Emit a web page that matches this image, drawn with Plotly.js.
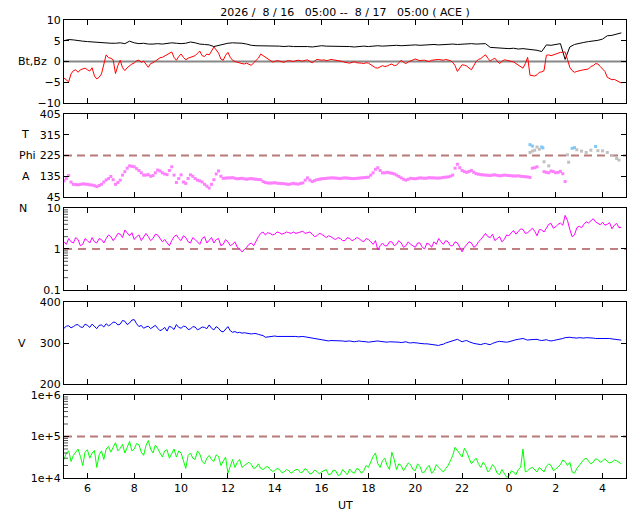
<!DOCTYPE html>
<html>
<head>
<meta charset="utf-8">
<script src="https://cdn.plot.ly/plotly-3.0.1.min.js"></script>
<style>
  body { margin: 0; background: #fff; }
  #chart { width: 640px; height: 512px; }
</style>
</head>
<body>
<div id="chart"></div>
<script>
// UT hours since 2026-08-16 00:00, one sample every 12 minutes
const hours = [
  5, 5.2, 5.4, 5.6, 5.8, 6, 6.2, 6.4, 6.6, 6.8,
  7, 7.2, 7.4, 7.6, 7.8, 8, 8.2, 8.4, 8.6, 8.8,
  9, 9.2, 9.4, 9.6, 9.8, 10, 10.2, 10.4, 10.6, 10.8,
  11, 11.2, 11.4, 11.6, 11.8, 12, 12.2, 12.4, 12.6, 12.8,
  13, 13.2, 13.4, 13.6, 13.8, 14, 14.2, 14.4, 14.6, 14.8,
  15, 15.2, 15.4, 15.6, 15.8, 16, 16.2, 16.4, 16.6, 16.8,
  17, 17.2, 17.4, 17.6, 17.8, 18, 18.2, 18.4, 18.6, 18.8,
  19, 19.2, 19.4, 19.6, 19.8, 20, 20.2, 20.4, 20.6, 20.8,
  21, 21.2, 21.4, 21.6, 21.8, 22, 22.2, 22.4, 22.6, 22.8,
  23, 23.2, 23.4, 23.6, 23.8, 24, 24.2, 24.4, 24.6, 24.8,
  25, 25.2, 25.4, 25.6, 25.8, 26, 26.2, 26.4, 26.6, 26.8,
  27, 27.2, 27.4, 27.6, 27.8, 28, 28.2, 28.4, 28.6, 28.8
];
// the *_mid arrays hold the samples taken 6 minutes after each entry of hours
const half_step = 0.1;

// Bt (nT)
const bt = [
  5.0, 5.3, 5.2, 5.0, 4.9, 4.8, 4.7, 4.6, 4.6, 4.5,
  4.4, 4.4, 4.5, 4.3, 4.9, 4.5, 4.3, 4.4, 4.2, 4.2,
  4.3, 4.2, 4.4, 4.5, 4.4, 4.3, 4.4, 4.7, 4.5, 4.2,
  4.1, 4.0, 3.6, 3.9, 4.2, 4.4, 4.5, 4.5, 4.4, 4.2,
  3.9, 3.8, 3.8, 3.7, 3.8, 3.7, 3.7, 3.6, 3.7, 3.6,
  3.6, 3.7, 3.6, 3.5, 3.6, 3.8, 3.7, 3.7, 3.6, 3.7,
  3.6, 3.6, 3.5, 3.6, 3.7, 3.6, 3.7, 3.8, 3.7, 3.8,
  3.8, 3.9, 3.8, 3.9, 3.9, 4.0, 3.9, 4.0, 4.0, 4.1,
  4.0, 4.1, 4.1, 4.2, 4.1, 4.2, 4.2, 4.3, 4.2, 4.3,
  4.3, 3.4, 3.3, 3.3, 3.2, 3.1, 3.2, 3.0, 3.1, 3.0,
  2.8, 2.7, 2.4, 4.0, 3.9, 4.1, 4.3, 0.5, 3.5, 4.1,
  4.4, 4.6, 4.8, 4.9, 5.1, 5.4, 6.2, 6.3, 6.6, 6.9
];

// Bz (nT)
const bz = [
  -4.0, -4.9, -2.2, -2.6, -1.8, -2.0, -1.5, -4.2, -3.0, 1.6,
  0.8, -2.9, 0.3, -2.2, -1.0, -0.4, 0.3, 0.1, -1.4, -0.3,
  0.6, 1.0, 1.5, 2.3, 0.3, 1.8, 0.4, 1.0, 1.4, 2.5,
  1.2, 1.6, 3.5, 2.0, 0.3, 2.2, 0.3, -0.2, -0.5, -0.4,
  -0.9, 0.2, 1.8, 1.0, 0.2, 0.0, 0.1, -0.2, 0.2, 0.0,
  0.3, 0.1, 0.4, -0.3, 0.5, 0.3, 0.2, 0.5, 0.3, 0.2,
  -0.2, -0.4, -0.1, -0.3, -0.5, -0.4, -1.2, -1.6, -1.0, -1.1,
  -0.6, -0.9, 0.3, -0.5, 0.1, 0.6, 0.2, 0.3, 0.0, 0.4,
  0.5, 0.3, 0.4, -0.2, -2.4, -0.8, -1.1, -2.0, 0.0, 0.7,
  1.6, 0.1, 0.8, -0.5, 0.4, 0.2, -0.1, -0.8, -1.6, 1.0,
  -3.4, -3.2, -2.5, 1.5, 1.4, 1.8, 2.2, 2.3, -1.4, -2.6,
  -2.2, -2.0, -1.8, -1.0, -0.6, -1.8, -3.8, -4.4, -4.6, -5.2
];
const bz_mid = [
  -4.5, -3.0, -2.0, -2.0, -1.6, -2.3, -3.5, -3.8, -1.0, 0.9,
  0.4, -1.0, -1.5, -1.5, -0.6, 0.2, -0.2, -0.8, -0.5, 0.1,
  0.9, 1.3, 2.0, 1.0, 1.2, 1.0, 0.8, 1.3, 2.0, 1.4,
  1.8, 2.5, 2.8, 0.6, 1.5, 1.0, 0.0, -0.4, -0.6, -0.7,
  -0.3, 0.8, 1.4, 0.5, -0.1, 0.2, -0.1, 0.1, 0.1, 0.2,
  0.2, 0.3, 0.0, 0.1, 0.4, 0.4, 0.3, 0.4, 0.2, 0.0,
  -0.3, -0.2, -0.3, -0.4, -0.3, -0.8, -1.5, -1.3, -1.2, -0.8,
  -1.0, -0.3, -0.2, -0.1, 0.4, 0.4, 0.3, 0.1, 0.3, 0.5,
  0.4, 0.5, 0.2, -1.0, -1.5, -0.9, -1.6, -1.0, 0.5, 1.2,
  0.8, 0.5, 0.1, 0.0, 0.3, 0.1, -0.5, -1.2, -0.5, -3.3,
  -3.5, -2.6, -2.2, 1.6, 1.6, 2.0, 2.2, 0.5, -2.2, -2.4,
  -2.1, -1.9, -1.2, -0.5, -1.2, -2.4, -4.2, -4.3, -4.9, null
];

// Phi angle (deg), toward sector samples
const phi_toward = [
  115, 138, 100, 98, 102, 100, 97, 90, 100, 119,
  134, 100, 118, 155, 180, 176, 160, 140, 142, 138,
  162, 150, 142, 176, 108, 141, 104, 141, 125, 115,
  100, 84, 120, 158, 126, 128, 129, 124, 126, 122,
  125, 122, 120, 108, 105, 107, 104, 103, 100, 104,
  101, 106, 128, 112, 120, 124, 126, 128, 127, 125,
  128, 126, 125, 127, 129, 131, 150, 172, 150, 152,
  148, 140, 128, 118, 126, 124, 128, 126, 129, 128,
  127, 130, 132, 140, 187, 160, 152, 160, 146, 142,
  140, 138, 141, 137, 140, 138, 136, 137, 134, 132,
  170, 176, null, 152, 158, 150, 156, 112, null, null,
  null, null, null, null, null, null, null, null, null, null
];
const phi_toward_mid = [
  125, 110, 99, 100, 101, 98, 94, 95, 110, 125,
  120, 108, 140, 170, 178, 168, 150, 140, 135, 150,
  158, 145, 160, 140, 125, 110, 125, 135, 118, 110,
  92, 100, 145, 135, 127, 128, 126, 125, 124, 124,
  123, 121, 112, 106, 106, 105, 103, 101, 102, 102,
  104, 118, 118, 116, 122, 125, 127, 128, 126, 127,
  127, 125, 126, 128, 130, 140, 165, 160, 150, 150,
  145, 134, 122, 122, 125, 126, 127, 127, 128, 127,
  128, 131, 135, 170, 172, 155, 156, 152, 144, 141,
  139, 140, 139, 138, 139, 137, 136, 135, 133, 130,
  172, null, 155, 150, 155, 152, 146, null, null, null,
  null, null, null, null, null, null, null, null, null, null
];

// Phi angle (deg), away sector samples
const away_hours = [24.9, 25.0, 25.4, 25.45, 26.7, 26.8, 27.7];
const phi_away = [272, 266, 262, 258, 256, 259, 264];

// Phi angle (deg), undetermined samples
const mixed_hours = [24.9, 25.0, 25.1, 25.2, 25.3, 25.5, 25.7, 26.5, 26.55, 26.9,
  27.1, 27.3, 27.5, 27.8, 28.0, 28.2, 28.4, 28.6, 28.7];
const phi_mixed = [238, 244, 248, 262, 252, 198, 180, 228, 196, 250,
  244, 238, 248, 246, 245, 238, 225, 212, 205];

// proton density (cm^-3)
const density = [
  1.5, 1.8, 1.4, 1.7, 1.3, 1.6, 1.9, 1.4, 1.7, 1.8,
  2.0, 1.9, 2.3, 2.9, 2.1, 1.7, 2.2, 1.9, 2.0, 1.8,
  2.2, 1.5, 1.4, 1.6, 2.2, 1.6, 1.9, 1.4, 1.7, 1.3,
  2.0, 1.6, 1.4, 1.8, 1.3, 1.5, 1.3, 1.1, 0.85, 1.1,
  1.4, 1.6, 2.4, 2.2, 2.4, 2.3, 2.5, 2.4, 2.5, 2.6,
  2.5, 2.7, 2.5, 2.3, 2.1, 2.3, 1.9, 2.0, 1.7, 1.8,
  1.6, 1.8, 1.7, 1.8, 1.5, 1.7, 1.3, 0.95, 1.4, 1.2,
  1.5, 1.3, 1.4, 1.2, 1.3, 1.1, 1.4, 1.0, 1.3, 1.5,
  1.8, 1.3, 1.5, 1.2, 1.4, 0.85, 1.3, 1.4, 1.2, 1.7,
  2.4, 1.9, 1.6, 2.0, 1.7, 2.1, 2.8, 2.6, 3.0, 2.5,
  3.2, 2.1, 2.9, 3.3, 4.2, 3.5, 4.3, 6.6, 3.0, 2.2,
  3.6, 4.0, 4.3, 5.5, 4.2, 4.5, 4.0, 3.1, 4.2, 3.4
];
const density_mid = [
  1.3, 1.5, 1.9, 1.2, 1.8, 1.4, 1.5, 1.8, 1.4, 2.2,
  1.6, 2.4, 1.9, 2.4, 2.5, 2.0, 1.6, 2.4, 1.6, 2.3,
  1.8, 1.7, 1.2, 2.0, 1.8, 2.1, 1.5, 1.9, 1.5, 1.8,
  1.4, 1.9, 1.7, 1.2, 1.7, 1.2, 1.5, 1.0, 0.95, 1.3,
  1.2, 2.0, 2.6, 2.5, 2.2, 2.6, 2.3, 2.6, 2.4, 2.4,
  2.6, 2.4, 2.6, 2.0, 2.4, 2.1, 2.1, 1.8, 1.9, 1.6,
  1.9, 1.6, 1.9, 1.6, 1.8, 1.5, 1.6, 1.2, 1.2, 1.5,
  1.2, 1.6, 1.1, 1.5, 1.2, 1.4, 1.1, 1.4, 1.1, 1.3,
  1.5, 1.6, 1.2, 1.5, 1.1, 1.1, 1.5, 1.1, 1.5, 2.0,
  2.0, 2.3, 1.8, 1.5, 2.2, 2.5, 2.3, 3.1, 2.4, 2.9,
  2.7, 3.0, 2.6, 4.0, 3.2, 4.0, 3.8, 5.0, 2.0, 3.3,
  3.3, 4.6, 4.8, 4.6, 3.9, 3.8, 4.4, 3.8, 3.3, null
];

// bulk speed (km/s)
const speed = [
  336, 342, 340, 345, 338, 343, 346, 335, 344, 347,
  345, 350, 346, 353, 349, 357, 340, 336, 341, 338,
  336, 333, 329, 338, 345, 336, 340, 334, 339, 335,
  338, 344, 332, 336, 327, 340, 326, 325, 324, 324,
  322, 323, 320, 314, 316, 317, 316, 317, 316, 317,
  315, 316, 314, 312, 309, 307, 306, 306, 305, 306,
  304, 305, 303, 305, 304, 302, 304, 305, 303, 302,
  303, 302, 301, 303, 300, 301, 299, 298, 297, 296,
  294, 297, 302, 305, 309, 303, 306, 300, 298, 296,
  299, 296, 302, 304, 302, 303, 306, 309, 311, 307,
  308, 309, 306, 308, 305, 307, 309, 313, 314, 312,
  313, 312, 313, 312, 311, 311, 312, 310, 309, 307
];
const speed_mid = [
  341, 337, 344, 339, 346, 338, 340, 343, 339, 342,
  351, 344, 355, 345, 356, 347, 343, 339, 335, 343,
  330, 338, 341, 333, 338, 341, 333, 340, 332, 339,
  335, 336, 340, 329, 333, 330, 328, 326, 325, 323,
  323, 321, 318, 315, 317, 316, 317, 316, 317, 316,
  316, 315, 313, 311, 308, 307, 305, 306, 306, 305,
  305, 304, 304, 304, 303, 303, 305, 304, 302, 303,
  302, 302, 302, 301, 301, 300, 298, 298, 296, 295,
  296, 300, 304, 307, 306, 305, 303, 299, 297, 298,
  297, 299, 303, 303, 302, 305, 308, 310, 309, 308,
  308, 307, 307, 306, 306, 308, 311, 314, 313, 312,
  312, 313, 312, 311, 311, 311, 311, 309, 308, null
];

// ion temperature (K)
const temperature = [
  28000, 45000, 35000, 50000, 20000, 48000, 40000, 18000, 45000, 50000,
  42000, 71000, 52000, 40000, 76000, 50000, 63000, 35000, 80000, 40000,
  52000, 32000, 48000, 38000, 32000, 40000, 17000, 40000, 28000, 38000,
  22000, 35000, 25000, 33000, 26000, 13000, 28000, 24000, 18000, 22000,
  21000, 18000, 17000, 18000, 16000, 15000, 16000, 14000, 15000, 14500,
  16000, 14000, 15000, 13000, 14500, 14000, 16000, 12500, 15000, 12000,
  14000, 16500, 13000, 16000, 15000, 18000, 33000, 22000, 26000, 20000,
  42000, 16000, 20000, 18000, 21000, 15000, 19000, 14000, 20000, 15000,
  18000, 14000, 20000, 35000, 45000, 32000, 42000, 22000, 30000, 18000,
  20000, 16000, 18000, 12000, 12500, 11000, 14000, 16000, 50000, 15000,
  18000, 14000, 16000, 19000, 20000, 16500, 21000, 25000, 24000, 13000,
  20000, 28000, 25000, 24000, 28000, 26000, 25000, 24000, 26000, 22000
];
const temperature_mid = [
  40000, 25000, 42000, 33000, 42000, 30000, 46000, 36000, 28000, 58000,
  55000, 45000, 65000, 55000, 45000, 68000, 42000, 60000, 50000, 62000,
  40000, 45000, 30000, 50000, 45000, 25000, 35000, 30000, 45000, 25000,
  30000, 28000, 36000, 20000, 32000, 20000, 18000, 28000, 20000, 24000,
  17000, 22000, 16000, 19000, 14500, 17000, 13500, 16000, 13000, 16000,
  13500, 17000, 12500, 15500, 12500, 15000, 12000, 15500, 11500, 16000,
  12000, 14000, 17000, 13000, 20000, 25000, 40000, 18000, 30000, 16000,
  28000, 22000, 15000, 23000, 16000, 22000, 13500, 18000, 13000, 21000,
  16000, 17000, 26000, 55000, 38000, 52000, 30000, 26000, 22000, 24000,
  14000, 21000, 13000, 16000, 10500, 15000, 12000, 18000, 14000, 17000,
  16000, 18000, 14000, 22000, 15000, 19000, 27000, 20000, 14000, 17000,
  24000, 30000, 22000, 29000, 24000, 29000, 23000, 27000, 24000, null
];

const tick_hours = [6, 8, 10, 12, 14, 16, 18, 20, 22, 24, 26, 28];
const tick_labels = ["6", "8", "10", "12", "14", "16", "18", "20", "22", "0", "2", "4"];
const density_minor = [0.2, 0.3, 0.4, 0.5, 0.6, 0.7, 0.8, 0.9, 2, 3, 4, 5, 6, 7, 8, 9];
const temperature_minor = [2e4, 3e4, 4e4, 5e4, 6e4, 7e4, 8e4, 9e4, 2e5, 3e5, 4e5, 5e5, 6e5, 7e5, 8e5, 9e5];

// reference levels
const bz_ref = 0;
const phi_ref = 225;
const density_ref = 1;
const temperature_ref = 1e5;

const nb = "\u00a0";
const title_text = `2026 /${nb} 8 / 16${nb}${nb} 05:00 --${nb} 8 / 17${nb}${nb} 05:00 ( ACE )`;

const plot_font = { family: "DejaVu Sans", size: 11, color: "#000" };

// merge a series with its half-step samples into one time ordered list
function interleave(values, mid_values) {
  const x = [], y = [];
  values.forEach((v, i) => {
    x.push(hours[i]); y.push(v);
    x.push(hours[i] + half_step); y.push(mid_values[i]);
  });
  return { x: x, y: y };
}

function make_x_axis(anchor, show_labels, first) {
  const axis = {
    anchor: anchor, range: [5, 29],
    tickmode: "array", tickvals: tick_hours, ticktext: tick_labels,
    showticklabels: show_labels,
    ticks: "inside", ticklen: 5, tickcolor: "#000",
    showline: true, linecolor: "#000", linewidth: 1, mirror: "ticks",
    showgrid: false, zeroline: false, fixedrange: true
  };
  if (!first) axis.matches = "x";
  return axis;
}

function make_y_axis(anchor, domain, extra) {
  return Object.assign({
    anchor: anchor, domain: domain,
    tickmode: "array",
    ticks: "inside", ticklen: 5, tickcolor: "#000",
    showline: true, linecolor: "#000", linewidth: 1, mirror: "ticks",
    showgrid: false, zeroline: false, fixedrange: true
  }, extra);
}

// short log-scale minor ticks on the left edge of a panel
function minor_tick_marks(xref, yref, values) {
  return values.map(v => ({
    type: "line", xref: xref + " domain", yref: yref,
    x0: 0, x1: 4 / 562, y0: v, y1: v,
    line: { color: "#555", width: 1 }, layer: "above"
  }));
}

function ref_line(xref, yref, value, color, width, dash, layer) {
  return {
    type: "line", xref: xref + " domain", yref: yref,
    x0: 0, x1: 1, y0: value, y1: value,
    line: { color: color, width: width, dash: dash }, layer: layer
  };
}

function side_label(text, x_px, yref, value) {
  return {
    text: text, xref: "paper", yref: yref,
    x: (x_px - 64) / 562, y: value,
    xanchor: "center", yanchor: "middle", showarrow: false,
    font: plot_font
  };
}

function build_traces() {
  const line_trace = (series, xa, ya, color) => ({
    x: series.x, y: series.y, xaxis: xa, yaxis: ya,
    type: "scatter", mode: "lines",
    line: { color: color, width: 1 }, hoverinfo: "skip"
  });
  const dot_trace = (series, color) => ({
    x: series.x, y: series.y, xaxis: "x2", yaxis: "y2",
    type: "scatter", mode: "markers",
    marker: { color: color, size: 3, symbol: "square" }, hoverinfo: "skip"
  });

  return [
    line_trace({ x: hours, y: bt }, "x", "y", "#000000"),
    line_trace(interleave(bz, bz_mid), "x", "y", "#ff0000"),
    dot_trace(interleave(phi_toward, phi_toward_mid), "#ff80ff"),
    dot_trace({ x: mixed_hours, y: phi_mixed }, "#c0c0c0"),
    dot_trace({ x: away_hours, y: phi_away }, "#80c8f8"),
    line_trace(interleave(density, density_mid), "x3", "y3", "#ff00ff"),
    line_trace(interleave(speed, speed_mid), "x4", "y4", "#0000ff"),
    line_trace(interleave(temperature, temperature_mid), "x5", "y5", "#00ff00")
  ];
}

function build_layout() {
  return {
    width: 640, height: 512,
    margin: { l: 64, r: 14, t: 20, b: 34, pad: 0 },
    paper_bgcolor: "#fff", plot_bgcolor: "#fff",
    font: plot_font, showlegend: false,
    title: {
      text: title_text, font: plot_font,
      xref: "paper", x: 0.5, xanchor: "center",
      yref: "container", y: 1 - 12 / 512, yanchor: "middle"
    },
    xaxis: make_x_axis("y", false, true),
    xaxis2: make_x_axis("y2", false, false),
    xaxis3: make_x_axis("y3", false, false),
    xaxis4: make_x_axis("y4", false, false),
    xaxis5: make_x_axis("y5", true, false),
    yaxis: make_y_axis("x", [0.8188, 1], {
      range: [-10, 10], tickvals: [-10, -5, 0, 5, 10]
    }),
    yaxis2: make_y_axis("x2", [0.6135, 0.7948], {
      range: [45, 405], tickvals: [45, 135, 225, 315, 405]
    }),
    yaxis3: make_y_axis("x3", [0.4105, 0.5895], {
      type: "log", range: [-1, 1],
      tickvals: [0.1, 1, 10], ticktext: ["0.1", "1", "10"]
    }),
    yaxis4: make_y_axis("x4", [0.2052, 0.3843], {
      range: [200, 400], tickvals: [200, 300, 400]
    }),
    yaxis5: make_y_axis("x5", [0, 0.1812], {
      type: "log", range: [4, 6],
      tickvals: [1e4, 1e5, 1e6], ticktext: ["1e+4", "1e+5", "1e+6"]
    }),
    shapes: [
      ref_line("x", "y", bz_ref, "#888888", 2, "solid", "below"),
      ref_line("x2", "y2", phi_ref, "#b87a78", 2, "8px,5px", "below"),
      ref_line("x3", "y3", density_ref, "#800000", 1, "8px,6px", "below"),
      ref_line("x5", "y5", temperature_ref, "#b87a78", 2, "8px,5px", "below")
    ].concat(
      minor_tick_marks("x3", "y3", density_minor),
      minor_tick_marks("x5", "y5", temperature_minor)
    ),
    annotations: [
      side_label("Bt,Bz", 32, "y", 0),
      side_label("T", 25, "y2", 315),
      side_label("Phi", 27, "y2", 225),
      side_label("A", 25.5, "y2", 135),
      side_label("N", 23, "y3", 1),
      side_label("V", 22, "y4", 300),
      side_label("T", 22, "y5", 1e5),
      {
        text: "UT", xref: "paper", yref: "paper",
        x: 0.5, y: (478 - 505) / 458, xanchor: "center", yanchor: "middle",
        showarrow: false, font: plot_font
      }
    ]
  };
}

Plotly.newPlot("chart", build_traces(), build_layout(), { displayModeBar: false, staticPlot: true });
</script>
</body>
</html>
